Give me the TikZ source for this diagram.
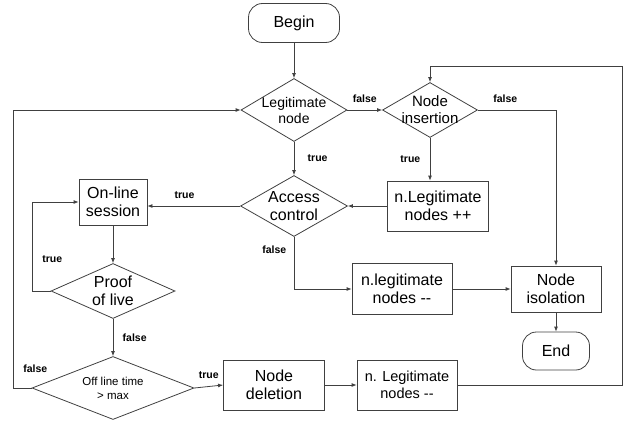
\documentclass[tikz,border=0pt]{standalone}
\usepackage{fontspec}
\setmainfont{Liberation Sans}
\usetikzlibrary{shapes.geometric,arrows.meta}
\definecolor{linec}{RGB}{64,64,64}
\begin{document}
\begin{tikzpicture}[x=1pt,y=-1pt,line width=0.8pt]
  \tikzstyle{boxn}=[rectangle,draw=linec,inner sep=0,align=center,font=\fontsize{16}{18}\selectfont]
  \tikzstyle{termn}=[boxn,rounded corners=14pt]
  \tikzstyle{decn}=[diamond,draw=linec,inner sep=0]
  \tikzstyle{dtxt}=[align=center,inner sep=0,font=\fontsize{16}{18}\selectfont]
  \tikzstyle{lbl}=[font=\fontsize{10.5}{12}\selectfont\bfseries]
  \tikzstyle{arr}=[draw=linec,-{Latex[length=5pt,width=4pt]}]
  \useasboundingbox (0,0) rectangle (624,431);
  % start / end
  \node(begin)[termn,minimum width=91pt,minimum height=39pt] at (294,23) {Begin};
  \node(end)[termn,minimum width=67pt,minimum height=38pt] at (556,351) {End};
  % decisions
  \node(legit)[decn,minimum width=106pt,minimum height=63pt,
    label={[dtxt,font=\fontsize{14}{16}\selectfont]center:Legitimate\\node}] at (294,110) {};
  \node(ins)[decn,minimum width=95pt,minimum height=55pt,
    label={[dtxt,font=\fontsize{15}{17}\selectfont]center:Node\\insertion}] at (430,110) {};
  \node(acc)[decn,minimum width=107pt,minimum height=61pt,
    label={[dtxt]center:Access\\control}] at (294,206) {};
  \node(proof)[decn,minimum width=124pt,minimum height=55pt,
    label={[dtxt]center:Proof\\of live}] at (113,291) {};
  \node(off)[decn,minimum width=162pt,minimum height=63pt,
    label={[dtxt,font=\fontsize{11.5}{14}\selectfont]center:Off line time\\> max}] at (113,388) {};
  % processes
  \node(online)[boxn,minimum width=68pt,minimum height=46pt] at (113,202) {On-line\\session};
  \node(incr)[boxn,minimum width=101pt,minimum height=50pt] at (438,206) {n.Legitimate\\nodes ++};
  \node(decr)[boxn,minimum width=100pt,minimum height=51pt] at (402,289) {n.legitimate\\nodes -{}-};
  \node(iso)[boxn,minimum width=90pt,minimum height=46pt] at (556,289) {Node\\isolation};
  \node(del)[boxn,minimum width=101pt,minimum height=50pt] at (274,385) {Node\\deletion};
  \node(decrb)[boxn,minimum width=100pt,minimum height=50pt,font=\fontsize{14.5}{17}\selectfont] at (407,385) {n. Legitimate\\nodes -{}-};
  \coordinate(rt) at (622,66);
  % connectors
  \draw[arr] (begin) -- (legit);
  \draw[arr] (legit.east) -- node[lbl,above=4pt]{false} (ins.west);
  \draw[arr] (legit) -- node[lbl,right=10pt]{true} (acc);
  \draw[arr] (ins) -- node[lbl,left=6pt]{true} (ins |- incr.north);
  \draw[arr] (ins.east) -- node[lbl,above=4pt,pos=0.35]{false} (ins.east -| iso) -- (iso);
  \draw[arr] (incr.west) -- (acc.east);
  \draw[arr] (acc.west) -- node[lbl,above=4pt,pos=0.6]{true} (acc.west -| online.east);
  \draw[arr] (acc) -- node[lbl,left=4pt,pos=0.25]{false} (acc |- decr.west) -- (decr.west);
  \draw[arr] (decr) -- (iso);
  \draw[arr] (iso) -- (end);
  \draw[arr] (online) -- (proof);
  \draw[arr] (proof.west) -- ++(-18,0) |- node[lbl,right=6pt,pos=0.18]{true} (online.west);
  \draw[arr] (proof) -- node[lbl,right=6pt]{false} (off);
  \draw[arr] (off.west) -- node[lbl,anchor=south west,pos=1,xshift=6pt,yshift=12pt]{false} ++(-18,0) |- (legit.west);
  \draw[arr] (off.east) -- node[lbl,above=4pt]{true} (del.west);
  \draw[arr] (del) -- (decrb);
  \draw[arr] (decrb.east) -| (rt) -| (ins.north);
\end{tikzpicture}
\end{document}
